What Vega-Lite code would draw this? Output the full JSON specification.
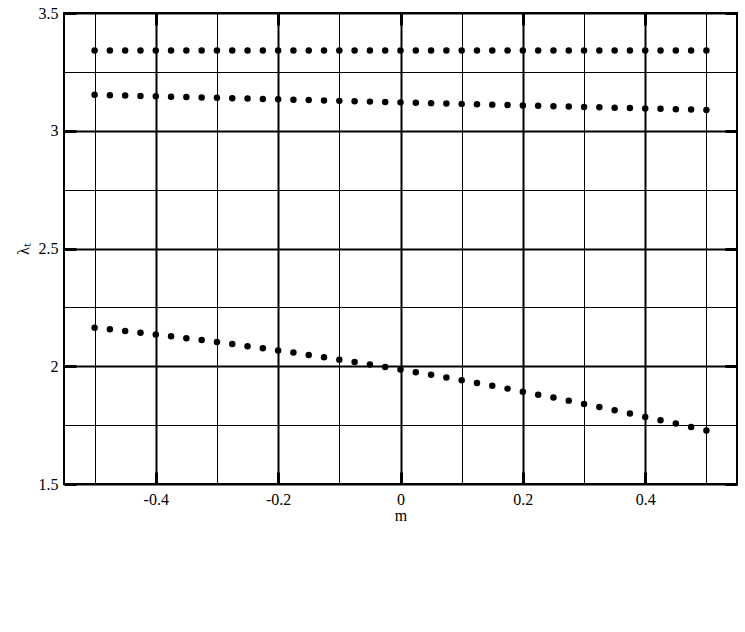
{
  "$schema": "https://vega.github.io/schema/vega-lite/v6.json",
  "autosize": {"type": "none"},
  "width": 673,
  "height": 471,
  "padding": {"left": 64, "top": 13, "right": 8, "bottom": 148},
  "background": "white",
  "config": {
    "view": {"stroke": "black", "strokeWidth": 2},
    "axis": {"labelFont": "Liberation Serif", "titleFont": "Liberation Serif", "labelFontSize": 16, "titleFontSize": 16, "labelColor": "black", "titleColor": "black", "titleFontWeight": "normal", "tickColor": "black"}
  },
  "datasets": {
    "pts": [
      {"m": -0.5, "series": "A", "lambda": 3.341}, {"m": -0.475, "series": "A", "lambda": 3.341}, {"m": -0.45, "series": "A", "lambda": 3.341}, {"m": -0.425, "series": "A", "lambda": 3.341}, {"m": -0.4, "series": "A", "lambda": 3.341}, {"m": -0.375, "series": "A", "lambda": 3.341}, {"m": -0.35, "series": "A", "lambda": 3.341}, {"m": -0.325, "series": "A", "lambda": 3.341}, {"m": -0.3, "series": "A", "lambda": 3.341}, {"m": -0.275, "series": "A", "lambda": 3.341}, {"m": -0.25, "series": "A", "lambda": 3.341}, {"m": -0.225, "series": "A", "lambda": 3.341}, {"m": -0.2, "series": "A", "lambda": 3.341}, {"m": -0.175, "series": "A", "lambda": 3.341}, {"m": -0.15, "series": "A", "lambda": 3.341}, {"m": -0.125, "series": "A", "lambda": 3.341}, {"m": -0.1, "series": "A", "lambda": 3.341}, {"m": -0.075, "series": "A", "lambda": 3.341}, {"m": -0.05, "series": "A", "lambda": 3.341}, {"m": -0.025, "series": "A", "lambda": 3.341}, {"m": 0, "series": "A", "lambda": 3.341}, {"m": 0.025, "series": "A", "lambda": 3.341}, {"m": 0.05, "series": "A", "lambda": 3.341}, {"m": 0.075, "series": "A", "lambda": 3.341}, {"m": 0.1, "series": "A", "lambda": 3.341}, {"m": 0.125, "series": "A", "lambda": 3.341}, {"m": 0.15, "series": "A", "lambda": 3.341}, {"m": 0.175, "series": "A", "lambda": 3.341}, {"m": 0.2, "series": "A", "lambda": 3.341}, {"m": 0.225, "series": "A", "lambda": 3.341}, {"m": 0.25, "series": "A", "lambda": 3.341}, {"m": 0.275, "series": "A", "lambda": 3.341}, {"m": 0.3, "series": "A", "lambda": 3.341}, {"m": 0.325, "series": "A", "lambda": 3.341}, {"m": 0.35, "series": "A", "lambda": 3.341}, {"m": 0.375, "series": "A", "lambda": 3.341}, {"m": 0.4, "series": "A", "lambda": 3.341}, {"m": 0.425, "series": "A", "lambda": 3.341}, {"m": 0.45, "series": "A", "lambda": 3.341}, {"m": 0.475, "series": "A", "lambda": 3.341}, {"m": 0.5, "series": "A", "lambda": 3.341},
      {"m": -0.5, "series": "B", "lambda": 3.1525}, {"m": -0.475, "series": "B", "lambda": 3.1509}, {"m": -0.45, "series": "B", "lambda": 3.1493}, {"m": -0.425, "series": "B", "lambda": 3.1477}, {"m": -0.4, "series": "B", "lambda": 3.1461}, {"m": -0.375, "series": "B", "lambda": 3.1445}, {"m": -0.35, "series": "B", "lambda": 3.1429}, {"m": -0.325, "series": "B", "lambda": 3.1413}, {"m": -0.3, "series": "B", "lambda": 3.1397}, {"m": -0.275, "series": "B", "lambda": 3.1381}, {"m": -0.25, "series": "B", "lambda": 3.1365}, {"m": -0.225, "series": "B", "lambda": 3.1349}, {"m": -0.2, "series": "B", "lambda": 3.1333}, {"m": -0.175, "series": "B", "lambda": 3.1317}, {"m": -0.15, "series": "B", "lambda": 3.1301}, {"m": -0.125, "series": "B", "lambda": 3.1285}, {"m": -0.1, "series": "B", "lambda": 3.1269}, {"m": -0.075, "series": "B", "lambda": 3.1253}, {"m": -0.05, "series": "B", "lambda": 3.1237}, {"m": -0.025, "series": "B", "lambda": 3.1221}, {"m": 0, "series": "B", "lambda": 3.1205}, {"m": 0.025, "series": "B", "lambda": 3.1189}, {"m": 0.05, "series": "B", "lambda": 3.1173}, {"m": 0.075, "series": "B", "lambda": 3.1157}, {"m": 0.1, "series": "B", "lambda": 3.1141}, {"m": 0.125, "series": "B", "lambda": 3.1125}, {"m": 0.15, "series": "B", "lambda": 3.1109}, {"m": 0.175, "series": "B", "lambda": 3.1093}, {"m": 0.2, "series": "B", "lambda": 3.1077}, {"m": 0.225, "series": "B", "lambda": 3.1061}, {"m": 0.25, "series": "B", "lambda": 3.1045}, {"m": 0.275, "series": "B", "lambda": 3.1029}, {"m": 0.3, "series": "B", "lambda": 3.1013}, {"m": 0.325, "series": "B", "lambda": 3.0997}, {"m": 0.35, "series": "B", "lambda": 3.0981}, {"m": 0.375, "series": "B", "lambda": 3.0965}, {"m": 0.4, "series": "B", "lambda": 3.0949}, {"m": 0.425, "series": "B", "lambda": 3.0933}, {"m": 0.45, "series": "B", "lambda": 3.0917}, {"m": 0.475, "series": "B", "lambda": 3.0901}, {"m": 0.5, "series": "B", "lambda": 3.0885},
      {"m": -0.5, "series": "C", "lambda": 2.164}, {"m": -0.475, "series": "C", "lambda": 2.157}, {"m": -0.45, "series": "C", "lambda": 2.150}, {"m": -0.425, "series": "C", "lambda": 2.142}, {"m": -0.4, "series": "C", "lambda": 2.135}, {"m": -0.375, "series": "C", "lambda": 2.127}, {"m": -0.35, "series": "C", "lambda": 2.119}, {"m": -0.325, "series": "C", "lambda": 2.111}, {"m": -0.3, "series": "C", "lambda": 2.103}, {"m": -0.275, "series": "C", "lambda": 2.094}, {"m": -0.25, "series": "C", "lambda": 2.085}, {"m": -0.225, "series": "C", "lambda": 2.076}, {"m": -0.2, "series": "C", "lambda": 2.067}, {"m": -0.175, "series": "C", "lambda": 2.058}, {"m": -0.15, "series": "C", "lambda": 2.048}, {"m": -0.125, "series": "C", "lambda": 2.038}, {"m": -0.1, "series": "C", "lambda": 2.028}, {"m": -0.075, "series": "C", "lambda": 2.018}, {"m": -0.05, "series": "C", "lambda": 2.007}, {"m": -0.025, "series": "C", "lambda": 1.997}, {"m": 0, "series": "C", "lambda": 1.986}, {"m": 0.025, "series": "C", "lambda": 1.975}, {"m": 0.05, "series": "C", "lambda": 1.964}, {"m": 0.075, "series": "C", "lambda": 1.952}, {"m": 0.1, "series": "C", "lambda": 1.941}, {"m": 0.125, "series": "C", "lambda": 1.929}, {"m": 0.15, "series": "C", "lambda": 1.917}, {"m": 0.175, "series": "C", "lambda": 1.905}, {"m": 0.2, "series": "C", "lambda": 1.892}, {"m": 0.225, "series": "C", "lambda": 1.879}, {"m": 0.25, "series": "C", "lambda": 1.867}, {"m": 0.275, "series": "C", "lambda": 1.854}, {"m": 0.3, "series": "C", "lambda": 1.840}, {"m": 0.325, "series": "C", "lambda": 1.827}, {"m": 0.35, "series": "C", "lambda": 1.813}, {"m": 0.375, "series": "C", "lambda": 1.799}, {"m": 0.4, "series": "C", "lambda": 1.785}, {"m": 0.425, "series": "C", "lambda": 1.771}, {"m": 0.45, "series": "C", "lambda": 1.757}, {"m": 0.475, "series": "C", "lambda": 1.742}, {"m": 0.5, "series": "C", "lambda": 1.727}
    ]
  },
  "data": {"name": "pts"},
  "resolve": {"axis": {"x": "independent", "y": "independent"}},
  "layer": [
    {
      "mark": {"type": "point", "filled": true, "color": "black", "opacity": 1, "size": 42, "shape": "circle"},
      "encoding": {
        "x": {
          "field": "m", "type": "quantitative",
          "scale": {"domain": [-0.55, 0.55], "nice": false, "zero": false},
          "axis": {
            "orient": "bottom", "title": "m", "titlePadding": 0,
            "labelFont": "Liberation Serif", "labelFontSize": 16, "titleFont": "Liberation Serif", "titleFontSize": 16,
            "values": [-0.5, -0.4, -0.3, -0.2, -0.1, 0, 0.1, 0.2, 0.3, 0.4, 0.5],
            "labelExpr": "abs(round(datum.value*10))%2==0 ? toString(datum.value) : ''",
            "labelOverlap": false, "labelFlush": false, "labelPadding": 7,
            "domain": false, "ticks": false,
            "grid": true, "gridColor": "black",
            "gridWidth": {"condition": {"test": "abs(round(datum.value*10))%2==0", "value": 2}, "value": 1}
          }
        },
        "y": {
          "field": "lambda", "type": "quantitative",
          "scale": {"domain": [1.5, 3.5], "nice": false, "zero": false},
          "axis": {
            "orient": "left", "title": "λₜ", "titlePadding": 7,
            "labelFont": "Liberation Serif", "labelFontSize": 16, "titleFont": "Liberation Serif", "titleFontSize": 16,
            "values": [1.5, 1.75, 2, 2.25, 2.5, 2.75, 3, 3.25, 3.5],
            "labelExpr": "abs(round(datum.value*4))%2==0 ? toString(datum.value) : ''",
            "labelOverlap": false, "labelFlush": false, "labelPadding": 6,
            "domain": false, "ticks": false,
            "grid": true, "gridColor": "black",
            "gridWidth": {"condition": {"test": "abs(round(datum.value*4))%2==0", "value": 2}, "value": 1}
          }
        }
      }
    },
    {
      "mark": {"type": "point", "opacity": 0, "size": 1},
      "encoding": {
        "x": {
          "field": "m", "type": "quantitative",
          "axis": {"orient": "top", "offset": -12, "title": null, "labels": false, "domain": false, "grid": false,
            "values": [-0.4, -0.2, 0, 0.2, 0.4], "ticks": true, "tickSize": 12, "tickWidth": 3}
        },
        "y": {
          "field": "lambda", "type": "quantitative",
          "axis": {"orient": "right", "offset": -12, "title": null, "labels": false, "domain": false, "grid": false,
            "values": [1.5, 2, 2.5, 3, 3.5], "ticks": true, "tickSize": 12, "tickWidth": 3}
        }
      }
    },
    {
      "mark": {"type": "point", "opacity": 0, "size": 1},
      "encoding": {
        "x": {
          "field": "m", "type": "quantitative",
          "axis": {"orient": "bottom", "offset": -12, "title": null, "labels": false, "domain": false, "grid": false,
            "values": [-0.4, -0.2, 0, 0.2, 0.4], "ticks": true, "tickSize": 12, "tickWidth": 3}
        },
        "y": {
          "field": "lambda", "type": "quantitative",
          "axis": {"orient": "left", "offset": -12, "title": null, "labels": false, "domain": false, "grid": false,
            "values": [1.5, 2, 2.5, 3, 3.5], "ticks": true, "tickSize": 12, "tickWidth": 3}
        }
      }
    }
  ]
}
